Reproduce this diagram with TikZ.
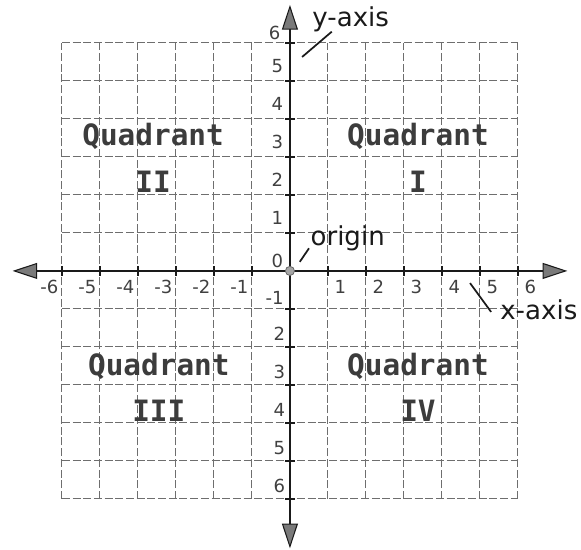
\documentclass[tikz,border=0pt]{standalone}
\usepackage{fontspec}
\setmainfont{DejaVu Sans}
\newfontfamily\quadfont{DejaVu Sans Mono}
\usepackage{tikz}
\usetikzlibrary{arrows.meta,positioning}
\definecolor{gridGray}{HTML}{6E6E6E}
\definecolor{inkDark}{HTML}{1A1A1A}
\definecolor{quadGray}{HTML}{3C3C3C}
\definecolor{headGray}{HTML}{7A7A7A}
\tikzset{
  gridline/.style={draw=gridGray, line width=0.75pt, dash pattern=on 6pt off 2pt},
  axisline/.style={draw=inkDark, line width=1.7pt,
        {Triangle[length=6.5mm, width=4.2mm, fill=headGray, line width=0.8pt]}-{Triangle[length=6.5mm, width=4.2mm, fill=headGray, line width=0.8pt]}},
  tickmark/.style={draw=inkDark, line width=1.4pt},
  numlab/.style={font=\fontsize{13.5}{16}\selectfont, text=black!75, inner sep=0pt},
  quadlab/.style={font=\quadfont\bfseries\fontsize{22}{26}\selectfont, text=quadGray, inner sep=0pt},
  callout/.style={font=\fontsize{19.5}{22}\selectfont, text=inkDark, inner sep=1pt},
  pointer/.style={draw=inkDark, line width=1.3pt},
  origindot/.style={circle, draw=black!60, fill=black!35, line width=0.6pt,
        minimum size=2.4mm, inner sep=0pt}
}
\begin{document}
\begin{tikzpicture}
\useasboundingbox (-7.63,-7.34) rectangle (7.66,7.13);
% grid and axes
\draw[gridline] (-6,-6) grid (6,6);
\draw[axisline] (-7.3,0) -- (7.3,0);
\draw[axisline] (0,-7.3) -- (0,7.0);
\foreach \i in {-6,...,-1,1,2,...,6} {
  \draw[tickmark] (\i,-0.13) -- (\i,0.13);
  \draw[tickmark] (-0.13,\i) -- (0.13,\i);
}
\node[origindot] (origin) at (0,0) {};

% numbers on the axes
\node[numlab] (y0) at (-0.33,0.25) {0};
\foreach \n in {1,...,5}
  \node[numlab] (y\n) at (-0.33,\n+0.4) {\n};
\node[numlab] (y6) at (-0.4,6.25) {6};
\node[numlab] (ym1) at (-0.4,-0.7) {-1};
\foreach \n in {2,...,6}
  \node[numlab] (ym\n) at (-0.28,-\n+0.35) {\n};
\foreach \n in {1,...,6}
  \node[numlab] (x\n) at (\n+0.33,-0.42) {\n};
\foreach \n in {1,...,6}
  \node[numlab] (xm\n) at (-\n-0.33,-0.42) {-\n};

% quadrant names
\node[quadlab] (q1) at (3.37,3.55) {Quadrant};
\node[quadlab, below=0.55cm of q1] (q1num) {I};
\node[quadlab] (q2) at (-3.6,3.55) {Quadrant};
\node[quadlab, below=0.55cm of q2] (q2num) {II};
\node[quadlab] (q3) at (-3.45,-2.5) {Quadrant};
\node[quadlab, below=0.55cm of q3] (q3num) {III};
\node[quadlab] (q4) at (3.37,-2.5) {Quadrant};
\node[quadlab, below=0.55cm of q4] (q4num) {IV};

% callouts
\node[callout] (ylab) at (1.6,6.62) {y-axis};
\coordinate (ypt) at (0.32,5.63);
\draw[pointer] (ypt) -- ([xshift=0.55cm,yshift=0.05cm]ylab.south west);
\node[callout] (olab) at (1.52,0.87) {origin};
\coordinate (opt) at (0.26,0.24);
\draw[pointer] (opt) -- ([yshift=0.1cm]olab.south west);
\node[callout] (xlab) at (6.55,-1.03) {x-axis};
\coordinate (xpt) at (4.74,-0.32);
\draw[pointer] (xpt) -- ([xshift=-0.2cm,yshift=-0.05cm]xlab.west);
\end{tikzpicture}
\end{document}
